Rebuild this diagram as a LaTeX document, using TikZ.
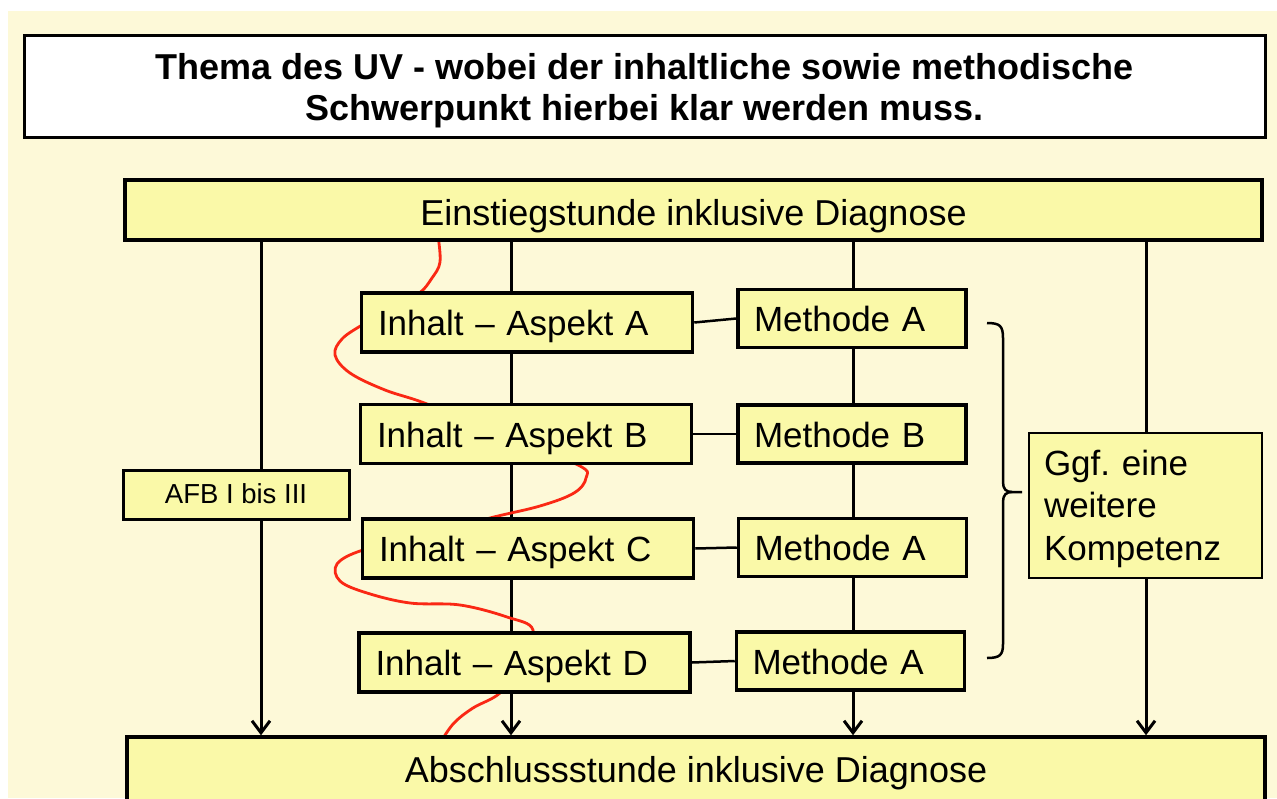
\documentclass[tikz,border=0pt]{standalone}
\usepackage{fontspec}
\setmainfont{Liberation Sans}
\usetikzlibrary{arrows.meta}
\definecolor{bgcream}{RGB}{253,249,216}
\definecolor{boxyellow}{RGB}{250,249,168}
\definecolor{curvered}{RGB}{250,40,20}
\pgfdeclarelayer{bglayer}
\pgfdeclarelayer{linelayer}
\pgfsetlayers{bglayer,linelayer,main}
\frenchspacing
\begin{document}
\begin{tikzpicture}[x=1pt,y=-1pt,
  ybox/.style={draw=black,line width=3.5pt,fill=boxyellow,inner sep=0pt,
    text depth=0pt,font=\fontsize{35}{42}\selectfont},
  inhalt/.style={ybox,minimum width=331,minimum height=59,text width=298,align=left,text height=26},
  methode/.style={ybox,minimum width=228,minimum height=58,text width=196,align=left,text height=26},
  arr/.style={line width=3pt,-{Straight Barb[length=12pt,width=18pt]}},
  link/.style={line width=2.5pt},
  bracestyle/.style={line width=2.5pt},
  redline/.style={line width=2.8pt,draw=curvered,line cap=round,line join=round}
]
\useasboundingbox (0,0) rectangle (1277,798);
\begin{pgfonlayer}{bglayer}
  \fill[white] (0,0) rectangle (1277,798);
  \fill[bgcream] (8,11) rectangle (1277,798);
\end{pgfonlayer}

% title
\node[ybox,fill=white,line width=3pt,minimum width=1241,minimum height=102,
  align=center,text height=67,text depth=0,
  font=\bfseries\fontsize{36}{41}\selectfont] (title) at (644.5,86.5)
  {Thema des UV - wobei der inhaltliche sowie methodische\\Schwerpunkt hierbei klar werden muss.};

\node[ybox,minimum width=1137,minimum height=60,text height=30,font=\fontsize{36}{42}\selectfont]
  (einstieg) at (693.5,210) {Einstiegstunde inklusive Diagnose};
\node[ybox,minimum width=1138,minimum height=66,text height=24,font=\fontsize{36}{42}\selectfont]
  (abschluss) at (696,770) {Abschlussstunde inklusive Diagnose};

\node[ybox,line width=3pt,minimum width=226,minimum height=49,text height=17,
  font=\fontsize{27.5}{33}\selectfont] (afb) at (236,494.5) {AFB I bis III};

\node[inhalt] (inA) at (527,322.5) {Inhalt – Aspekt A};
\node[inhalt] (inB) at (526,434) {Inhalt – Aspekt B};
\node[inhalt] (inC) at (528,548.5) {Inhalt – Aspekt C};
\node[inhalt] (inD) at (524.5,662.5) {Inhalt – Aspekt D};

\node[methode] (meA) at (852,318.5) {Methode A};
\node[methode] (meB) at (852,434) {Methode B};
\node[methode] (meC) at (852.5,547.5) {Methode A};
\node[methode] (meD) at (850.5,661) {Methode A};

\node[ybox,line width=2.5pt,minimum width=233,minimum height=145,text width=203,
  align=left,text height=26,text depth=87,font=\fontsize{35}{42.5}\selectfont]
  (ggf) at (1145.5,505.5) {Ggf. eine\\weitere\\Kompetenz};

\coordinate (x1) at (261,0);
\coordinate (x2) at (511,0);
\coordinate (x3) at (853,0);
\coordinate (x4) at (1146,0);

\begin{pgfonlayer}{linelayer}
  \draw[arr] (einstieg.south -| x1) -- (abschluss.north -| x1);
  \draw[arr] (einstieg.south -| x2) -- (abschluss.north -| x2);
  \draw[arr] (einstieg.south -| x3) -- (abschluss.north -| x3);
  \draw[arr] (einstieg.south -| x4) -- (abschluss.north -| x4);
  \draw[link] (inA.east) -- (meA.west);
  \draw[link] (inB.east) -- (meB.west);
  \draw[link] (inC.east) -- (meC.west);
  \draw[link] (inD.east) -- (meD.west);
  \draw[redline] plot[smooth,tension=0.6] coordinates {
    (438,236) (440,262) (432,278) (418,294) (385,312) (362,325) (342,339)
    (335,355) (350,373) (385,390) (427,404) (500,435) (578,465) (586,478)
    (574,493) (540,506) (490,518) (420,537) (363,550) (337,564) (340,581)
    (367,593) (410,603) (460,605) (507,617) (533,630) (522,665) (500,693)
    (473,708) (454,723) (442,740)};
\end{pgfonlayer}

% brace
\draw[bracestyle] (987,323) .. controls (1000,323) and (1003,326) .. (1003,338)
  -- (1003,482) .. controls (1003,489) and (1006,492) .. (1012,492) -- (1022,492);
\draw[bracestyle] (1012,492) .. controls (1006,492) and (1003,495) .. (1003,502)
  -- (1003,644) .. controls (1003,655) and (1000,658) .. (987,658);
\end{tikzpicture}
\end{document}
